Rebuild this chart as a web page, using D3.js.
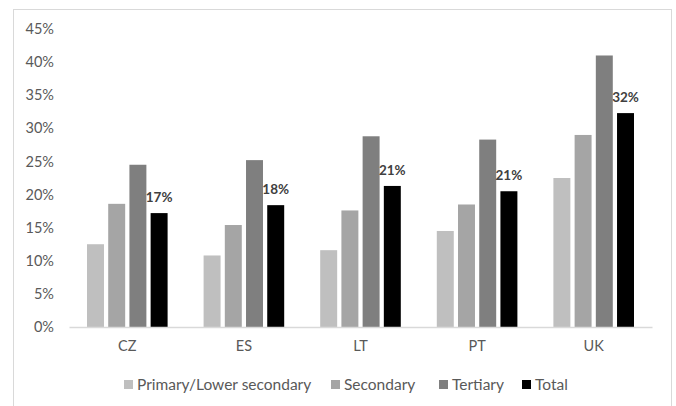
<!DOCTYPE html>
<html>
<head>
<meta charset="utf-8">
<script src="https://cdn.jsdelivr.net/npm/d3@7"></script>
<style>
  html, body { margin: 0; padding: 0; background: #fff; }
  svg { display: block; font-family: Lato, "Open Sans", sans-serif; }
</style>
</head>
<body>
<svg id="chart" width="676" height="406"></svg>
<script>
// Countries along the x axis
const countries = ["CZ", "ES", "LT", "PT", "UK"];
// Education levels (series)
const levels = ["Primary/Lower secondary", "Secondary", "Tertiary", "Total"];
// Share per level, in country order
const primaryLower = [0.125, 0.108, 0.116, 0.145, 0.225];
const secondary    = [0.186, 0.154, 0.176, 0.185, 0.290];
const tertiary     = [0.245, 0.252, 0.288, 0.283, 0.410];
const total        = [0.172, 0.184, 0.213, 0.205, 0.323];
// Y axis ticks
const yTicks = [0, 0.05, 0.10, 0.15, 0.20, 0.25, 0.30, 0.35, 0.40, 0.45];

const seriesValues = [primaryLower, secondary, tertiary, total];
const colors = ["#bfbfbf", "#a5a5a5", "#7f7f7f", "#000000"];

const svg = d3.select("#chart");

// chart frame
svg.append("rect")
  .attr("x", 13.5).attr("y", 9.5)
  .attr("width", 658).attr("height", 420)
  .attr("fill", "none").attr("stroke", "#d9d9d9").attr("stroke-width", 1);

const plot = { left: 69, right: 652, top: 29, bottom: 327 };

const x0 = d3.scaleBand().domain(countries).range([plot.left, plot.right]).paddingInner(0).paddingOuter(0);
const x1 = d3.scaleBand().domain(levels).range([18, x0.bandwidth() - 18]).paddingInner(0.2).paddingOuter(0);
const y = d3.scaleLinear().domain([0, 0.45]).range([plot.bottom, plot.top]);

// y axis labels
const yAxis = d3.axisLeft(y).tickValues(yTicks).tickFormat(d3.format(".0%")).tickSize(0).tickPadding(0);
const yg = svg.append("g").attr("transform", `translate(54,0)`).call(yAxis);
yg.select(".domain").remove();
yg.selectAll("text").attr("fill", "#595959").attr("font-size", "14.5px").attr("font-family", "Lato, sans-serif");

// bars
const groups = svg.append("g").selectAll("g")
  .data(countries)
  .join("g")
  .attr("transform", d => `translate(${x0(d)},0)`);

groups.selectAll("rect")
  .data((c, i) => levels.map((l, k) => ({ level: l, value: seriesValues[k][i], color: colors[k] })))
  .join("rect")
  .attr("x", d => x1(d.level))
  .attr("width", x1.bandwidth())
  .attr("y", d => y(d.value))
  .attr("height", d => y(0) - y(d.value))
  .attr("fill", d => d.color);

// value labels on the Total bars
groups.append("text")
  .datum((c, i) => total[i])
  .attr("x", x1("Total") + x1.bandwidth() / 2)
  .attr("y", d => y(d) - 11)
  .attr("text-anchor", "middle")
  .attr("font-size", "13.5px")
  .attr("font-weight", "bold")
  .attr("fill", "#404040")
  .text(d => d3.format(".0%")(d));

// x axis baseline and labels
const xAxis = d3.axisBottom(x0).tickSize(0).tickPadding(14);
const xg = svg.append("g").attr("transform", `translate(0,${plot.bottom})`).call(xAxis);
xg.select(".domain").attr("stroke", "#d9d9d9").attr("stroke-width", 1.5);
xg.selectAll("text").attr("fill", "#595959").attr("font-size", "14.5px").attr("font-family", "Lato, sans-serif");

// legend
const legendX = [124, 331, 439, 522];
const legend = svg.append("g").selectAll("g")
  .data(levels)
  .join("g")
  .attr("transform", (d, i) => `translate(${legendX[i]},385)`);
legend.append("rect")
  .attr("x", 0).attr("y", -5).attr("width", 9).attr("height", 9)
  .attr("fill", (d, i) => colors[i]);
legend.append("text")
  .attr("x", 13).attr("y", 0)
  .attr("dy", "0.35em")
  .attr("font-size", "15.5px")
  .attr("fill", "#595959")
  .text(d => d);
</script>
</body>
</html>
